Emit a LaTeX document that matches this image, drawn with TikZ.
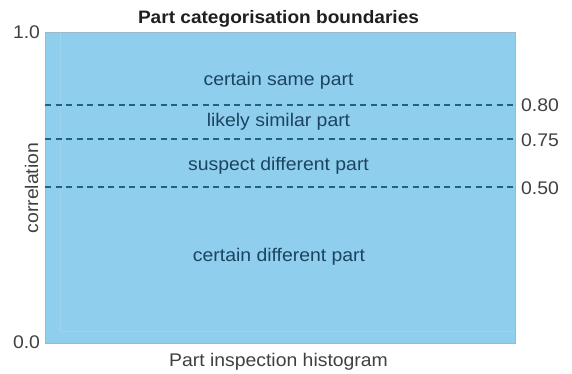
\documentclass[tikz,border=0pt]{standalone}
\usepackage{fontspec}
\setmainfont[FakeStretch=1.06]{Liberation Sans}
\definecolor{boxfill}{HTML}{90CEEE}
\definecolor{boxedge}{HTML}{9DB8C8}
\definecolor{inner}{HTML}{1B4460}
\definecolor{dashc}{HTML}{1C6484}
\definecolor{outer}{HTML}{404040}
\definecolor{faint}{HTML}{9FD2EC}
\tikzset{
  lbl/.style={inner sep=0pt, anchor=base, text=inner, font=\fontsize{18.3}{21}\selectfont},
  axl/.style={inner sep=0pt, anchor=base, text=outer, font=\fontsize{18.3}{21}\selectfont},
  numl/.style={inner sep=0pt, anchor=base west, text=outer, font=\fontsize{18.3}{21}\selectfont},
  boundary/.style={draw=dashc, line width=2pt, dash pattern=on 6pt off 4.5pt},
}
\begin{document}
\begin{tikzpicture}[x=1pt, y=-1pt]
\useasboundingbox (0,0) rectangle (572,373);
% main box
\node[draw=boxedge, line width=0.8pt, fill=boxfill, minimum width=470pt, minimum height=311pt, inner sep=0pt, anchor=north west] (box) at (45,32) {};
\draw[faint, line width=0.8pt] (60,32) -- (60,331) -- (514.6,331);
% title
\node[inner sep=0pt, anchor=base, text=black!88, font=\fontsize{18}{21}\selectfont\bfseries] (title) at (278.5,23) {Part categorisation boundaries};
% axis labels
\node[axl] (top) at (26.5,38) {1.0};
\node[axl] (bot) at (26.5,348) {0.0};
\node[axl] (xlab) at (278.5,366) {Part inspection histogram};
\node[axl, rotate=90] (ylab) at (38,188) {correlation};
% boundaries
\coordinate (l80) at (45,104.5);
\coordinate (r80) at (515,104.5);
\coordinate (l75) at (45,138.5);
\coordinate (r75) at (515,138.5);
\coordinate (l50) at (45,187);
\coordinate (r50) at (515,187);
\draw[boundary] (l80) -- (r80);
\draw[boundary] (l75) -- (r75);
\draw[boundary] (l50) -- (r50);
\node[numl] (n80) at (521,111.5) {0.80};
\node[numl] (n75) at (521,146.5) {0.75};
\node[numl] (n50) at (521,194) {0.50};
% region labels
\node[lbl] (same) at (278.5,85) {certain same part};
\node[lbl] (likely) at (278.5,126.5) {likely similar part};
\node[lbl] (suspect) at (278.5,170) {suspect different part};
\node[lbl] (diff) at (279,261) {certain different part};
\end{tikzpicture}
\end{document}
